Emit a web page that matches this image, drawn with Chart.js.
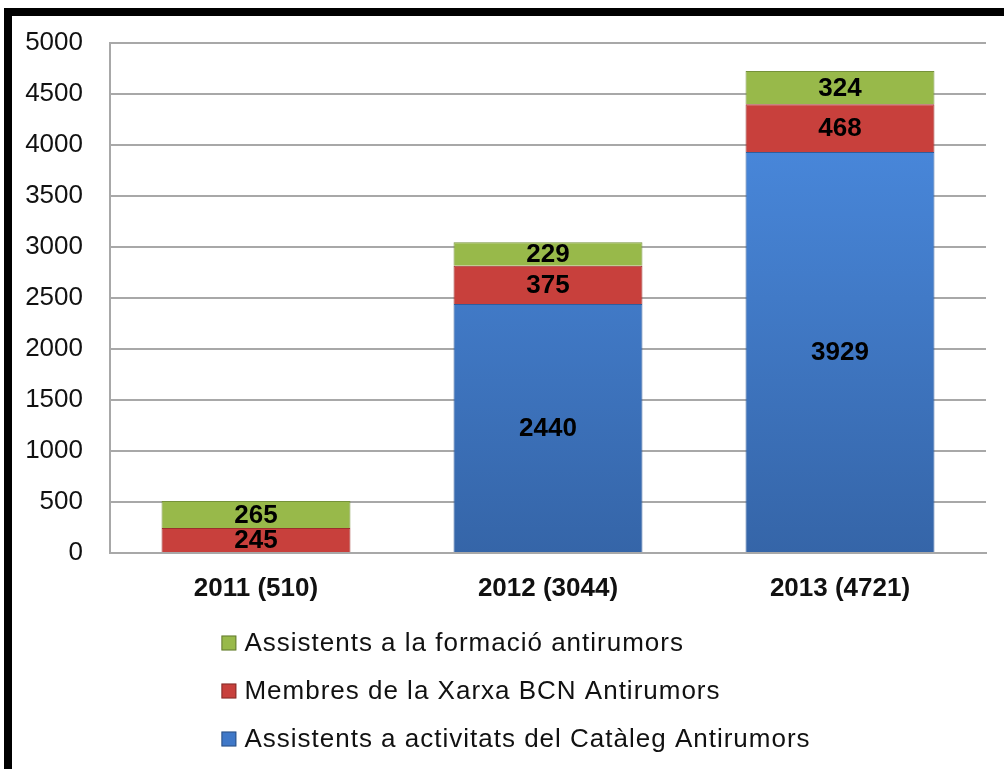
<!DOCTYPE html>
<html>
<head>
<meta charset="utf-8">
<script src="https://cdn.jsdelivr.net/npm/chart.js@4"></script>
<style>
  body { margin: 0; background: #fff; }
  #bar_chart { display: block; }
</style>
</head>
<body>
<canvas id="bar_chart" width="1004" height="769"></canvas>
<script>
// values
var years = ["2011 (510)", "2012 (3044)", "2013 (4721)"];
var activitats = [0, 2440, 3929];   // blue, bottom
var membres = [245, 375, 468];      // red, middle
var formacio = [265, 229, 324];     // green, top
var series_labels = [
  "Assistents a activitats del Catàleg Antirumors",
  "Membres de la Xarxa BCN Antirumors",
  "Assistents a la formació antirumors"
];
var y_max = 5000;
var y_step = 500;

var blue = "#3f78c8";
var red = "#c8403c";
var green = "#98b94a";

function blue_fill(context) {
  var chart = context.chart;
  var area = chart.chartArea;
  if (!area) return blue;
  var grad = chart.ctx.createLinearGradient(0, area.top, 0, area.bottom);
  grad.addColorStop(0, "#4d8fe6");
  grad.addColorStop(1, "#3565a8");
  return grad;
}

// draws the frame, the numbers in each segment and the legend underneath
var extras_plugin = {
  id: 'extras',
  afterDatasetsDraw: function(chart) {
    var ctx = chart.ctx;
    ctx.save();
    ctx.font = "bold 26px 'Liberation Sans', Arial, sans-serif";
    ctx.fillStyle = "#000";
    ctx.textAlign = "center";
    ctx.textBaseline = "middle";
    chart.data.datasets.forEach(function(ds, i) {
      var meta = chart.getDatasetMeta(i);
      meta.data.forEach(function(bar, j) {
        var v = ds.data[j];
        if (!v) return;
        ctx.fillText(v, bar.x, (bar.y + bar.base) / 2 + 1);
      });
    });
    ctx.restore();
  },
  afterDraw: function(chart) {
    var ctx = chart.ctx;
    var area = chart.chartArea;
    ctx.save();

    // legend, reversed like the original
    ctx.font = "26px 'Liberation Sans', Arial, sans-serif";
    ctx.letterSpacing = "1px";
    ctx.textBaseline = "middle";
    ctx.textAlign = "left";
    var items = chart.data.datasets.slice().reverse();
    var max_w = 0;
    items.forEach(function(ds) {
      max_w = Math.max(max_w, ctx.measureText(ds.label).width);
    });
    var box = 15;
    var gap = 8;
    var left = 516 - (box + gap + max_w) / 2;
    items.forEach(function(ds, k) {
      var cy = area.bottom + 90 + k * 48;
      ctx.fillStyle = ds.legendColor;
      ctx.fillRect(left, cy - box / 2, box, box);
      ctx.strokeStyle = "rgba(0,0,0,0.35)";
      ctx.lineWidth = 1;
      ctx.strokeRect(left + 0.5, cy - box / 2 + 0.5, box - 1, box - 1);
      ctx.fillStyle = "#111";
      ctx.fillText(ds.label, left + box + gap, cy + 1);
    });

    // thick black frame (top and left edges are visible)
    ctx.fillStyle = "#000";
    ctx.fillRect(4, 8, 1000, 8);
    ctx.fillRect(4, 8, 8, 761);
    ctx.restore();
  }
};

var ctx = document.getElementById("bar_chart");
var bar_chart = new Chart(ctx, {
  type: 'bar',
  data: {
    labels: years,
    datasets: [
      {
        label: series_labels[0],
        data: activitats,
        backgroundColor: blue_fill,
        legendColor: blue,
        borderColor: "#2f5d9c",
        borderWidth: 1
      },
      {
        label: series_labels[1],
        data: membres,
        backgroundColor: red,
        legendColor: red,
        borderColor: "#9c2f2c",
        borderWidth: 1
      },
      {
        label: series_labels[2],
        data: formacio,
        backgroundColor: green,
        legendColor: green,
        borderColor: "#76923a",
        borderWidth: 1
      }
    ]
  },
  options: {
    responsive: false,
    animation: false,
    layout: { padding: { top: 41, right: 18, bottom: 0, left: 0 } },
    datasets: {
      bar: { categoryPercentage: 1, barPercentage: 0.647 }
    },
    scales: {
      x: {
        stacked: true,
        grid: { display: false },
        border: { display: true, color: "#a8a8a8", width: 2 },
        ticks: {
          padding: 12,
          color: "#111",
          font: { family: "'Liberation Sans', Arial, sans-serif", size: 26, weight: 'bold' }
        },
        afterFit: function(scale) { scale.height = 216; }
      },
      y: {
        stacked: true,
        min: 0,
        max: y_max,
        grid: { color: "#a8a8a8", lineWidth: 2, drawTicks: false },
        border: { display: true, color: "#a8a8a8", width: 2 },
        ticks: {
          stepSize: y_step,
          padding: 27,
          color: "#111",
          font: { family: "'Liberation Sans', Arial, sans-serif", size: 26 },
          callback: function(value) { return String(value); }
        },
        afterFit: function(scale) { scale.width = 110; }
      }
    },
    plugins: {
      legend: { display: false },
      tooltip: { enabled: false }
    }
  },
  plugins: [extras_plugin]
});
</script>
</body>
</html>
